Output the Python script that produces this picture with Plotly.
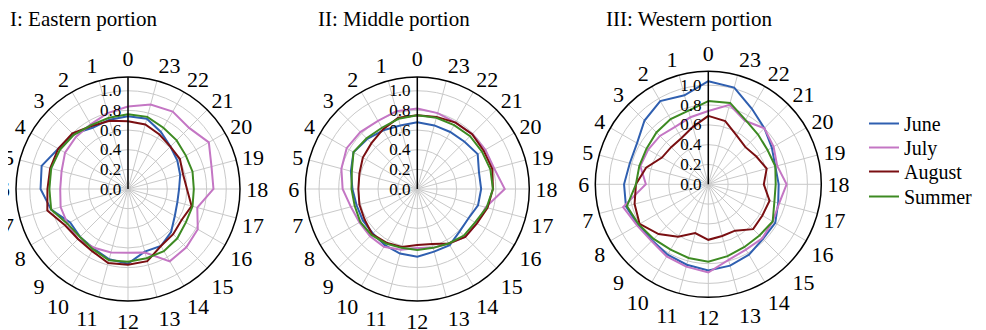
import plotly.graph_objects as go

hours = [str(h) for h in range(24)]
series_names = ["June", "July", "August", "Summer"]
series_colors = ["#2f5fb0", "#c476c4", "#7a0f12", "#3d8a22"]
panel_titles = ["I: Eastern portion", "II: Middle portion", "III: Western portion"]
radial_ticks = [0.0, 0.2, 0.4, 0.6, 0.8, 1.0]

# Panel I: Eastern portion
east_june = [0.74, 0.73, 0.72, 0.79, 0.82, 0.91, 0.89, 0.81, 0.68, 0.69, 0.70, 0.74,
             0.76, 0.66, 0.67, 0.62, 0.55, 0.52, 0.52, 0.55, 0.58, 0.61, 0.67, 0.74]
east_july = [0.84, 0.80, 0.76, 0.75, 0.74, 0.70, 0.69, 0.71, 0.71, 0.72, 0.69, 0.67,
             0.65, 0.67, 0.85, 0.84, 0.82, 0.73, 0.87, 0.88, 0.95, 0.88, 0.91, 0.89]
east_aug = [0.69, 0.72, 0.74, 0.80, 0.82, 0.82, 0.82, 0.85, 0.74, 0.72, 0.73, 0.78,
            0.77, 0.76, 0.67, 0.65, 0.63, 0.67, 0.60, 0.58, 0.61, 0.61, 0.64, 0.68]
east_summer = [0.76, 0.75, 0.75, 0.78, 0.80, 0.81, 0.80, 0.81, 0.71, 0.69, 0.71, 0.75,
               0.74, 0.73, 0.73, 0.71, 0.68, 0.68, 0.67, 0.68, 0.68, 0.70, 0.72, 0.76]

# Panel II: Middle portion
mid_june = [0.68, 0.67, 0.69, 0.72, 0.75, 0.70, 0.66, 0.64, 0.64, 0.64, 0.66, 0.68,
            0.69, 0.66, 0.66, 0.61, 0.60, 0.64, 0.65, 0.65, 0.71, 0.68, 0.67, 0.67]
mid_july = [0.82, 0.82, 0.80, 0.82, 0.83, 0.80, 0.76, 0.70, 0.68, 0.68, 0.68, 0.64,
            0.60, 0.62, 0.64, 0.69, 0.70, 0.72, 0.89, 0.81, 0.80, 0.79, 0.78, 0.80]
mid_aug = [0.75, 0.75, 0.70, 0.66, 0.64, 0.61, 0.60, 0.61, 0.62, 0.65, 0.63, 0.61,
           0.57, 0.58, 0.64, 0.69, 0.70, 0.74, 0.77, 0.79, 0.78, 0.79, 0.78, 0.76]
mid_summer = [0.75, 0.74, 0.72, 0.73, 0.75, 0.69, 0.67, 0.66, 0.67, 0.66, 0.64, 0.62,
              0.62, 0.62, 0.64, 0.67, 0.68, 0.73, 0.77, 0.77, 0.76, 0.76, 0.75, 0.75]

# Panel III: Western portion
west_june = [1.04, 0.93, 0.97, 0.91, 0.83, 0.82, 0.85, 0.86, 0.82, 0.80, 0.82, 0.84,
             0.87, 0.85, 0.82, 0.78, 0.78, 0.73, 0.71, 0.70, 0.74, 0.80, 0.88, 1.01]
west_july = [0.74, 0.70, 0.67, 0.69, 0.70, 0.71, 0.63, 0.89, 0.83, 0.81, 0.84, 0.86,
             0.89, 0.79, 0.76, 0.77, 0.75, 0.74, 0.79, 0.72, 0.76, 0.80, 0.74, 0.83]
west_aug = [0.69, 0.60, 0.54, 0.53, 0.54, 0.65, 0.73, 0.77, 0.80, 0.71, 0.61, 0.51,
            0.56, 0.54, 0.54, 0.64, 0.63, 0.64, 0.56, 0.61, 0.56, 0.53, 0.57, 0.66]
west_summer = [0.84, 0.77, 0.76, 0.74, 0.72, 0.72, 0.73, 0.85, 0.81, 0.78, 0.76, 0.77,
               0.78, 0.75, 0.73, 0.73, 0.75, 0.69, 0.68, 0.70, 0.69, 0.71, 0.75, 0.85]

panels = [
    [east_june, east_july, east_aug, east_summer],
    [mid_june, mid_july, mid_aug, mid_summer],
    [west_june, west_july, west_aug, west_summer],
]

W, H = 986, 330
OFF = 8  # page body margin offset
# circle centers / radii in page pixels
centers = [(128, 189, 112), (417.3, 189, 112), (708.3, 184.3, 113)]

FONT = "Liberation Serif, Times New Roman, serif"

fig = go.Figure()
layout_polars = {}
legend_ids = ["legend", "legend2", "legend3", "legend4"]
for i, (series, (cx, cy, r)) in enumerate(zip(panels, centers)):
    cx -= OFF
    cy -= OFF
    pname = "polar" if i == 0 else f"polar{i+1}"
    for k, (name, color, vals) in enumerate(zip(series_names, series_colors, series)):
        fig.add_trace(go.Scatterpolar(
            r=vals + vals[:1],
            theta=hours + hours[:1],
            mode="lines",
            line=dict(color=color, width=2),
            name=name,
            showlegend=(i == 2),
            legend=legend_ids[k],
            subplot=pname,
        ))
    layout_polars[pname] = dict(
        domain=dict(x=[(cx - r) / W, (cx + r) / W],
                    y=[(H - (cy + r)) / H, (H - (cy - r)) / H]),
        bgcolor="white",
        angularaxis=dict(
            type="category",
            categoryorder="array",
            categoryarray=hours,
            rotation=90,
            direction="counterclockwise",
            showline=True,
            linecolor="black",
            linewidth=1.5,
            gridcolor="#c9c9c9",
            gridwidth=1,
            ticks="outside",
            ticklen=1,
            tickcolor="rgba(0,0,0,0)",
            tickfont=dict(family=FONT, size=22, color="black"),
        ),
        radialaxis=dict(
            range=[0, 1.14],
            tickvals=radial_ticks,
            ticktext=[f"{v:.1f}" for v in radial_ticks],
            angle=90,
            tickangle=90,
            side="counterclockwise",
            showline=True,
            linecolor="black",
            linewidth=1.5,
            gridcolor="#c9c9c9",
            gridwidth=1,
            ticks="",
            tickfont=dict(family=FONT, size=17, color="black"),
        ),
    )

title_x = [0, 308, 596]
annotations = [
    dict(text=t, x=x / W, y=1 - 11 / H, xref="paper", yref="paper",
         xanchor="left", yanchor="middle", showarrow=False,
         font=dict(family=FONT, size=21, color="black"))
    for t, x in zip(panel_titles, title_x)
]

legend_centers = [124, 148, 172, 197]
legends = {}
for lid, yc in zip(legend_ids, legend_centers):
    legends[lid] = dict(x=856 / W, y=1 - (yc - 28) / H, xanchor="left", yanchor="top",
                        font=dict(family=FONT, size=20, color="black"),
                        bgcolor="rgba(0,0,0,0)", itemwidth=30)

fig.update_layout(
    width=W, height=H,
    margin=dict(l=0, r=0, t=0, b=0),
    paper_bgcolor="white",
    plot_bgcolor="white",
    showlegend=True,
    annotations=annotations,
    **legends,
    **layout_polars,
)

fig.write_html("out.html")
